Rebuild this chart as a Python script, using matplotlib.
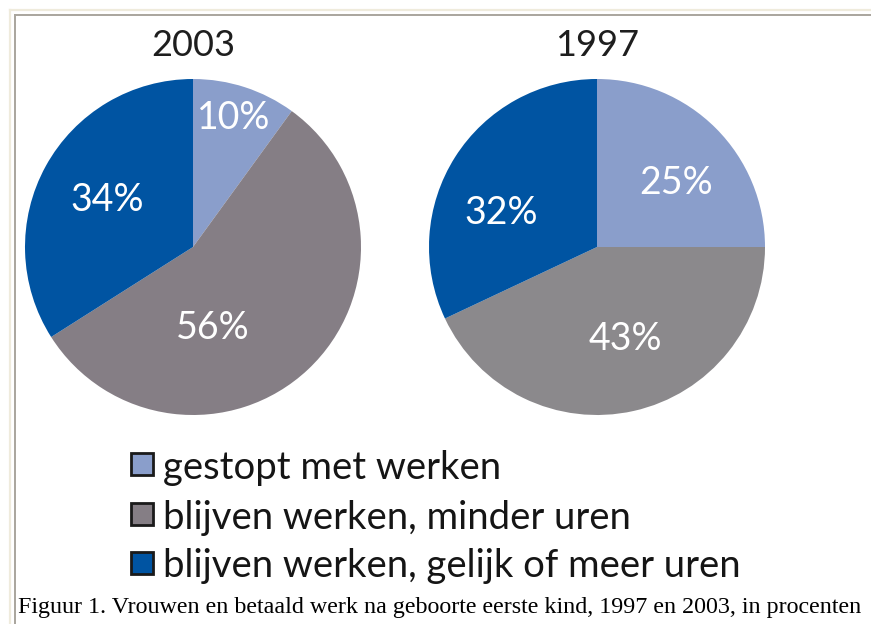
import matplotlib.pyplot as plt
from matplotlib.patches import Rectangle
from matplotlib.lines import Line2D

# data
years = ["2003", "1997"]
shares_2003 = [10, 56, 34]
shares_1997 = [25, 43, 32]
categories = ["gestopt met werken",
              "blijven werken, minder uren",
              "blijven werken, gelijk of meer uren"]
caption = "Figuur 1. Vrouwen en betaald werk na geboorte eerste kind, 1997 en 2003, in procenten"

light_blue = "#8a9ecb"
dark_blue = "#0054a2"
colors_2003 = [light_blue, "#857e85", dark_blue]
colors_1997 = [light_blue, "#8b898c", dark_blue]

# label spots inside each pie (unit radius)
label_pos_2003 = [(0.24, 0.77), (0.12, -0.48), (-0.51, 0.28)]
label_pos_1997 = [(0.47, 0.38), (0.17, -0.55), (-0.57, 0.20)]

W, H = 871, 624
fig = plt.figure(figsize=(W / 100, H / 100), dpi=100)
fig.patch.set_facecolor("white")

FONT = "Lato"
R = 168  # pie radius in px


def px_axes(cx, cy, r):
    return fig.add_axes([(cx - r) / W, 1 - (cy + r) / H, 2 * r / W, 2 * r / H])


def draw_pie(cx, cy, vals, cols, title, pos):
    ax = px_axes(cx, cy, R)
    wedges, texts, autotexts = ax.pie(vals, colors=cols, startangle=90, counterclock=False,
                                      radius=1, autopct=lambda p: f"{p:.0f}%",
                                      wedgeprops=dict(linewidth=0),
                                      textprops=dict(color="white", fontsize=27,
                                                     family=FONT))
    for t, (x, y) in zip(autotexts, pos):
        t.set_position((x, y))
        t.set_ha("center")
        t.set_va("center")
    ax.set_xlim(-1, 1)
    ax.set_ylim(-1, 1)
    ax.set_aspect("equal")
    ax.axis("off")
    fig.text(cx / W, 1 - 46 / H, title, ha="center", va="center",
             fontsize=26, family=FONT, color="#1e1e1e")


draw_pie(193, 247, shares_2003, colors_2003, years[0], label_pos_2003)
draw_pie(597, 247, shares_1997, colors_1997, years[1], label_pos_1997)

# legend
row_y = [464, 514, 563]
for lab, col, y in zip(categories, colors_2003, row_y):
    fig.patches.append(Rectangle(((131) / W, 1 - (y + 11) / H), 22 / W, 22 / H,
                                 transform=fig.transFigure, facecolor=col,
                                 edgecolor="#1a1a1a", linewidth=2))
    fig.text(163 / W, 1 - y / H, lab, ha="left", va="center_baseline",
             fontsize=27.5, family=FONT, color="#151515")

# caption
fig.text(18 / W, 1 - 607 / H, caption, ha="left", va="center",
         fontsize=17.3, family="Liberation Serif", color="black")

# page frame
fig.lines.append(Line2D([9.5 / W, 9.5 / W], [1 - 9.5 / H, 0], transform=fig.transFigure,
                        color="#efebdc", linewidth=1.6))
fig.lines.append(Line2D([9.5 / W, 1], [1 - 9.5 / H, 1 - 9.5 / H], transform=fig.transFigure,
                        color="#efebdc", linewidth=1.6))
fig.lines.append(Line2D([14.5 / W, 14.5 / W], [1 - 14.5 / H, 0], transform=fig.transFigure,
                        color="#a9a59d", linewidth=1.4))
fig.lines.append(Line2D([14.5 / W, 1], [1 - 14.5 / H, 1 - 14.5 / H], transform=fig.transFigure,
                        color="#a9a59d", linewidth=1.4))

fig.savefig("out.png", dpi=100)
